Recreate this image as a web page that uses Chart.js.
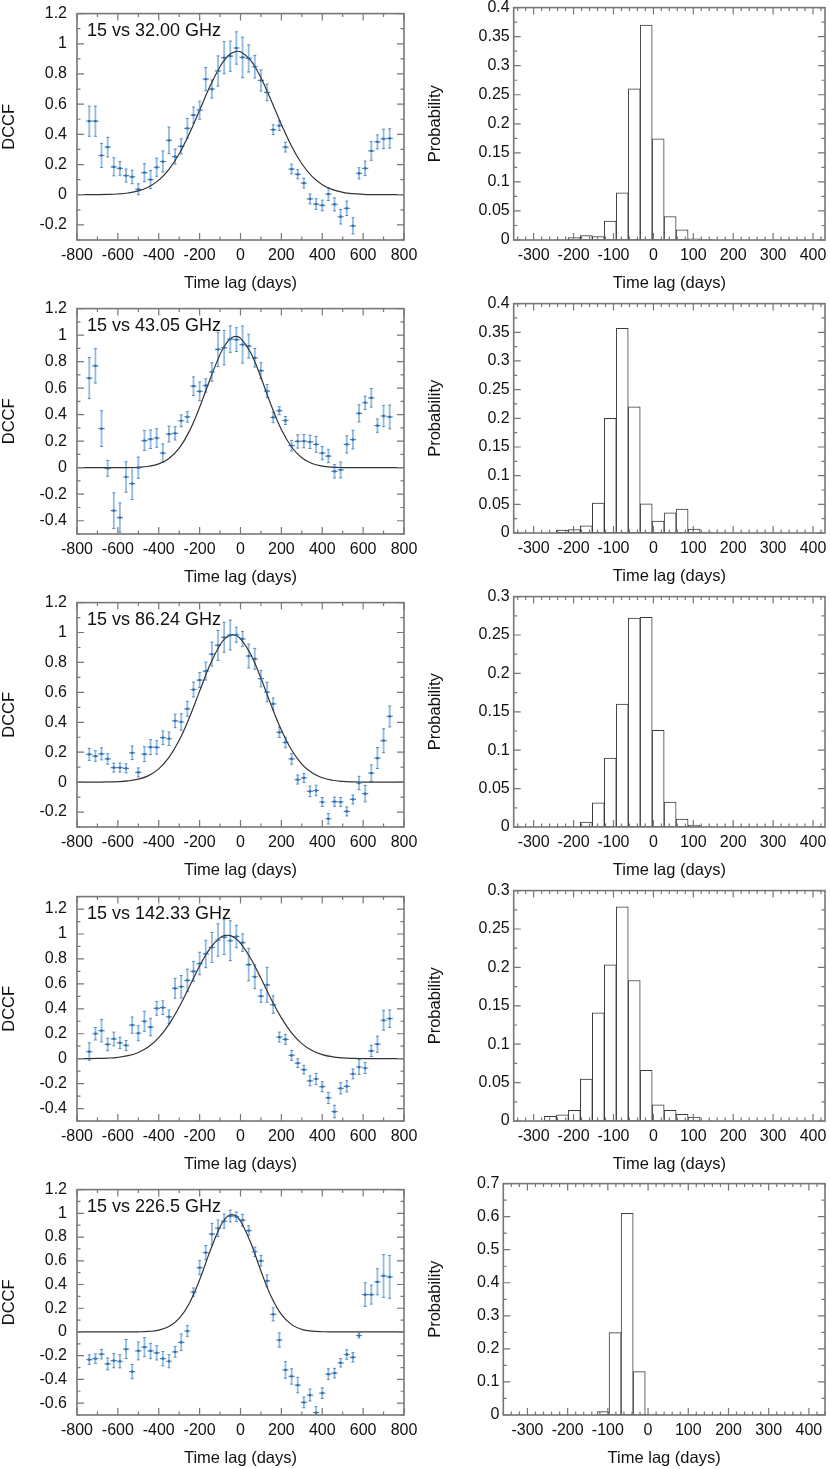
<!DOCTYPE html>
<html>
<head>
<meta charset="utf-8">
<title>DCCF time lags</title>
<script src="https://cdn.jsdelivr.net/npm/chart.js@4.4.0/dist/chart.umd.min.js"></script>
<style>
  html, body { margin: 0; padding: 0; background: #fff; overflow: hidden; }
  body { width: 830px; height: 1469px; position: relative; }
  canvas { position: absolute; }
</style>
</head>
<body>
<script>
// ---- data ----
var panelLabels = ["15 vs 32.00 GHz", "15 vs 43.05 GHz", "15 vs 86.24 GHz", "15 vs 142.33 GHz", "15 vs 226.5 GHz"];

// lag of every DCCF bin (days) and half width of the bin
var lags = [-740,-710,-680,-650,-620,-590,-560,-530,-500,-470,-440,-410,-380,-350,-320,-290,-260,-230,-200,-170,
            -140,-110,-80,-50,-20,10,40,70,100,130,160,190,220,250,280,310,340,370,400,430,
            460,490,520,550,580,610,640,670,700,730];
var lagHalfWidth = 15;

var dccf1 = [0.487,0.487,0.26,0.315,0.185,0.174,0.127,0.118,0.036,0.146,0.10,0.182,0.22,0.36,0.253,0.32,0.44,0.528,0.56,0.766,
             0.70,0.82,0.908,0.918,0.972,0.91,0.903,0.848,0.757,0.678,0.431,0.457,0.315,0.17,0.135,0.077,-0.028,-0.062,-0.071,0.004,
             -0.064,-0.146,-0.09,-0.206,0.142,0.175,0.29,0.35,0.37,0.373];
var err1 = [0.1,0.1,0.08,0.065,0.06,0.045,0.043,0.045,0.036,0.06,0.06,0.06,0.07,0.088,0.05,0.05,0.065,0.053,0.06,0.077,
            0.06,0.1,0.107,0.1,0.107,0.134,0.09,0.075,0.07,0.055,0.032,0.032,0.032,0.032,0.03,0.032,0.033,0.035,0.035,0.043,
            0.043,0.048,0.048,0.054,0.037,0.048,0.062,0.046,0.064,0.064];

var dccf2 = [0.676,0.768,0.295,-0.005,-0.324,-0.376,-0.07,-0.12,0.0,0.205,0.215,0.224,0.11,0.254,0.259,0.354,0.383,0.615,0.576,0.62,
             0.722,0.893,0.905,0.97,0.966,0.929,0.917,0.829,0.732,0.578,0.38,0.43,0.356,0.166,0.198,0.2,0.195,0.176,0.11,0.088,
             -0.027,-0.017,0.176,0.212,0.41,0.49,0.527,0.317,0.39,0.383];
var err2 = [0.155,0.13,0.135,0.06,0.135,0.11,0.115,0.12,0.08,0.075,0.07,0.07,0.07,0.06,0.05,0.045,0.04,0.07,0.07,0.05,
            0.07,0.13,0.13,0.1,0.09,0.14,0.09,0.07,0.06,0.05,0.04,0.03,0.03,0.04,0.05,0.05,0.05,0.06,0.05,0.05,
            0.05,0.06,0.065,0.07,0.065,0.05,0.07,0.05,0.08,0.09];

var dccf3 = [0.185,0.174,0.189,0.155,0.097,0.097,0.092,0.196,0.065,0.187,0.234,0.232,0.297,0.29,0.409,0.402,0.49,0.619,0.682,0.742,
             0.856,0.914,0.968,0.983,0.985,0.957,0.843,0.824,0.692,0.602,0.523,0.333,0.265,0.155,0.017,0.028,-0.062,-0.056,-0.133,-0.245,
             -0.131,-0.133,-0.196,-0.116,-0.006,-0.077,0.06,0.161,0.277,0.439];
var err3 = [0.04,0.035,0.04,0.035,0.03,0.03,0.03,0.045,0.03,0.05,0.05,0.045,0.045,0.045,0.045,0.055,0.05,0.05,0.05,0.06,
            0.08,0.1,0.1,0.1,0.05,0.05,0.08,0.07,0.055,0.065,0.04,0.035,0.035,0.035,0.03,0.03,0.035,0.035,0.03,0.035,
            0.03,0.03,0.03,0.03,0.045,0.055,0.055,0.07,0.08,0.07];

var dccf4 = [0.057,0.2,0.225,0.114,0.158,0.127,0.106,0.269,0.204,0.30,0.253,0.403,0.409,0.336,0.564,0.577,0.628,0.70,0.763,0.84,
             0.892,0.952,0.975,0.946,0.98,0.931,0.755,0.657,0.502,0.592,0.434,0.173,0.155,0.026,-0.036,-0.088,-0.178,-0.163,-0.225,-0.315,
             -0.424,-0.238,-0.222,-0.122,-0.067,-0.075,0.062,0.116,0.308,0.321];
var err4 = [0.07,0.05,0.09,0.05,0.055,0.045,0.04,0.065,0.06,0.08,0.07,0.055,0.055,0.055,0.08,0.09,0.09,0.08,0.09,0.11,
            0.12,0.13,0.14,0.16,0.09,0.07,0.13,0.095,0.05,0.14,0.07,0.04,0.04,0.04,0.035,0.035,0.04,0.045,0.04,0.045,
            0.05,0.045,0.045,0.04,0.06,0.045,0.045,0.065,0.08,0.07];

var dccf5 = [-0.233,-0.225,-0.187,-0.269,-0.242,-0.247,-0.144,-0.334,-0.16,-0.128,-0.16,-0.176,-0.225,-0.247,-0.168,-0.087,0.008,0.336,0.543,0.668,
             0.825,0.874,0.934,0.977,0.971,0.942,0.855,0.676,0.60,0.431,0.149,-0.068,-0.32,-0.375,-0.448,-0.594,-0.532,-0.68,-0.516,-0.355,
             -0.347,-0.26,-0.19,-0.214,-0.03,0.315,0.315,0.423,0.472,0.464];
var err5 = [0.04,0.04,0.04,0.05,0.06,0.055,0.08,0.06,0.075,0.08,0.065,0.06,0.06,0.055,0.045,0.07,0.045,0.035,0.06,0.06,
            0.09,0.07,0.06,0.05,0.04,0.05,0.04,0.04,0.045,0.05,0.055,0.06,0.07,0.065,0.065,0.045,0.05,0.05,0.045,0.045,
            0.04,0.035,0.04,0.04,0.02,0.1,0.08,0.11,0.18,0.18];

// fitted curve
var fitLags = [-800,-750,-700,-650,-600,-550,-500,-450,-400,-350,-300,-250,-200,-150,-100,-75,-50,-25,0,
               50,100,150,200,250,300,350,400,450,500,550,600,650,700,750,800];
var fit1 = [0,0,0.0007,0.0019,0.0048,0.0115,0.0252,0.0512,0.0964,0.168,0.271,0.405,0.56,0.717,0.85,0.899,0.932,0.9485,0.947,
            0.89,0.775,0.624,0.466,0.321,0.205,0.1215,0.0667,0.0337,0.0159,0.0069,0.0028,0.001,0.0004,0,0];
var fit2 = [0,0,0,0,0,0.001,0.0035,0.0108,0.0292,0.0699,0.1477,0.2758,0.4553,0.6636,0.8547,0.9257,0.9723,0.99,0.977,
            0.8675,0.6803,0.4713,0.2885,0.156,0.0745,0.0314,0.0117,0.0039,0.0011,0,0,0,0,0,0];
var fit3 = [0,0.0001,0.0003,0.001,0.003,0.008,0.0195,0.0436,0.0888,0.1648,0.2793,0.4314,0.6083,0.7824,0.9178,0.9606,0.9824,0.982,0.9592,
            0.8544,0.6943,0.5147,0.3481,0.2147,0.1208,0.062,0.0291,0.0124,0.0048,0.0017,0.0005,0,0,0,0];
var fit4 = [0.0002,0.0006,0.0017,0.0045,0.0108,0.0242,0.05,0.0954,0.1685,0.2747,0.4141,0.5769,0.7426,0.8834,0.9711,0.9884,0.9865,0.9653,0.9261,
            0.8035,0.6443,0.4774,0.3269,0.2068,0.121,0.0653,0.0327,0.0151,0.0064,0.0025,0.0009,0.0003,0,0,0];
var fit5 = [0,0,0,0,0,0.0002,0.0011,0.0044,0.0153,0.0453,0.1137,0.2425,0.4397,0.6774,0.8874,0.9555,0.9879,0.9807,0.9349,
            0.7518,0.5138,0.2986,0.1474,0.0619,0.0221,0.0067,0.0017,0.0004,0,0,0,0,0,0,0];

// lag probability histograms (bin centres, days)
var histLags = [-258,-228,-198,-168,-138,-108,-78,-48,-18,12,42,72,102,132,162];
var prob1 = [0,0.001,0.004,0.0075,0.006,0.0325,0.081,0.26,0.37,0.174,0.0405,0.0177,0.002,0.001,0];
var prob2 = [0,0.005,0.006,0.0127,0.052,0.20,0.357,0.22,0.0507,0.021,0.035,0.0415,0.007,0.0017,0.0005];
var prob3 = [0,0.0005,0.001,0.0065,0.0315,0.0896,0.16,0.272,0.273,0.126,0.0323,0.0103,0.0026,0.001,0];
var prob4 = [0.006,0.008,0.0138,0.0547,0.141,0.2035,0.279,0.183,0.066,0.021,0.0138,0.0086,0.005,0.001,0];
var histLags5 = [-142,-112,-82,-52,-22,8,38];
var prob5 = [0.0003,0.010,0.249,0.61,0.131,0.003,0];

// tick labels
var xTicksDccf = [-800,-600,-400,-200,0,200,400,600,800];
var xTicksHist = [-300,-200,-100,0,100,200,300,400];
var yTicksA = [-0.2,0,0.2,0.4,0.6,0.8,1,1.2];
var yTicksB = [-0.4,-0.2,0,0.2,0.4,0.6,0.8,1,1.2];
var yTicksC = [-0.6,-0.4,-0.2,0,0.2,0.4,0.6,0.8,1,1.2];
var yTicksP4 = [0,0.05,0.1,0.15,0.2,0.25,0.3,0.35,0.4];
var yTicksP3 = [0,0.05,0.1,0.15,0.2,0.25,0.3];
var yTicksP7 = [0,0.1,0.2,0.3,0.4,0.5,0.6,0.7];

// ---- layout ----
var FONT = "'Liberation Sans', Arial, Helvetica, sans-serif";
Chart.defaults.font.family = FONT;
Chart.defaults.font.size = 16;
Chart.defaults.color = '#111';
Chart.defaults.animation = false;
Chart.defaults.plugins.legend.display = false;
Chart.defaults.plugins.tooltip.enabled = false;

var dccfPanels = [
    { vals: dccf1, errs: err1, fit: fit1, yMin: -0.3, yMax: 1.2, yTicks: yTicksA, top: 6, bottom: 239.5 },
    { vals: dccf2, errs: err2, fit: fit2, yMin: -0.5, yMax: 1.2, yTicks: yTicksB, top: 300.7, bottom: 533.3 },
    { vals: dccf3, errs: err3, fit: fit3, yMin: -0.3, yMax: 1.2, yTicks: yTicksA, top: 595, bottom: 827.3 },
    { vals: dccf4, errs: err4, fit: fit4, yMin: -0.5, yMax: 1.3, yTicks: yTicksB, top: 888.7, bottom: 1121 },
    { vals: dccf5, errs: err5, fit: fit5, yMin: -0.7, yMax: 1.2, yTicks: yTicksC, top: 1182, bottom: 1415 }
];
var histPanels = [
    { lagsX: histLags, probs: prob1, yMax: 0.4, yTicks: yTicksP4, yMinor: 0.025, xMin: -350, xMax: 430, left: 513.7, top: 6, bottom: 239.7 },
    { lagsX: histLags, probs: prob2, yMax: 0.4, yTicks: yTicksP4, yMinor: 0.025, xMin: -350, xMax: 430, left: 513.7, top: 302.3, bottom: 533.7 },
    { lagsX: histLags, probs: prob3, yMax: 0.3, yTicks: yTicksP3, yMinor: 0.025, xMin: -350, xMax: 430, left: 513.7, top: 595.3, bottom: 827.3 },
    { lagsX: histLags, probs: prob4, yMax: 0.3, yTicks: yTicksP3, yMinor: 0.025, xMin: -350, xMax: 430, left: 513.7, top: 889, bottom: 1121 },
    { lagsX: histLags5, probs: prob5, yMax: 0.7, yTicks: yTicksP7, yMinor: 0.05, xMin: -360, xMax: 440, left: 503.3, top: 1182.3, bottom: 1415 }
];

function makeCanvas(left, top, width, height) {
    var cv = document.createElement('canvas');
    cv.width = width;
    cv.height = height;
    cv.style.left = left + 'px';
    cv.style.top = top + 'px';
    cv.style.width = width + 'px';
    cv.style.height = height + 'px';
    document.body.appendChild(cv);
    return cv;
}

function fmt(v) {
    return String(Math.round(v * 1000) / 1000);
}

function fixedTicks(values) {
    return function (scale) {
        scale.ticks = values.map(function (v) { return { value: v }; });
    };
}

function axisX(min, max, ticks) {
    return {
        type: 'linear', position: 'bottom', min: min, max: max, offset: false,
        afterBuildTicks: fixedTicks(ticks),
        afterFit: function (s) { s.height = 53; },
        grid: { display: false, drawTicks: false, offset: false },
        border: { display: false },
        ticks: { padding: 6, maxRotation: 0, autoSkip: false, callback: fmt },
        title: { display: true, text: 'Time lag (days)', padding: 0, font: { size: 16.5 } }
    };
}

function axisY(min, max, ticks, text, width, tickPad, titlePad) {
    return {
        type: 'linear', position: 'left', min: min, max: max,
        afterBuildTicks: fixedTicks(ticks),
        afterFit: function (s) { s.width = width; },
        grid: { display: false, drawTicks: false },
        border: { display: false },
        ticks: { padding: tickPad, autoSkip: false, callback: fmt },
        title: { display: true, text: text, padding: { top: titlePad, bottom: 0 }, font: { size: 16.5 } }
    };
}

// minor + major tick positions along a scale
function tickMarks(scale, minor) {
    var majors = scale.ticks.map(function (t) { return t.value; });
    var out = [];
    var start = Math.ceil(scale.min / minor - 1e-6);
    var end = Math.floor(scale.max / minor + 1e-6);
    for (var k = start; k <= end; k++) {
        var v = k * minor;
        var isMajor = majors.some(function (m) { return Math.abs(m - v) < minor * 0.01; });
        out.push({ v: v, major: isMajor });
    }
    return out;
}

// box with inward ticks on all four sides
function framePlugin(xMinor, yMinor) {
    return {
        id: 'frame',
        afterDraw: function (chart) {
            var ctx = chart.ctx, a = chart.chartArea;
            var sx = chart.scales.x, sy = chart.scales.y;
            ctx.save();
            ctx.strokeStyle = '#777';
            ctx.lineWidth = 1.2;
            ctx.beginPath();
            tickMarks(sx, xMinor).forEach(function (m) {
                var p = sx.getPixelForValue(m.v), len = m.major ? 7 : 3.5;
                ctx.moveTo(p, a.bottom); ctx.lineTo(p, a.bottom - len);
                ctx.moveTo(p, a.top); ctx.lineTo(p, a.top + len);
            });
            tickMarks(sy, yMinor).forEach(function (m) {
                var p = sy.getPixelForValue(m.v), len = m.major ? 7 : 3.5;
                ctx.moveTo(a.left, p); ctx.lineTo(a.left + len, p);
                ctx.moveTo(a.right, p); ctx.lineTo(a.right - len, p);
            });
            ctx.stroke();
            ctx.lineWidth = 1.6;
            ctx.strokeRect(a.left, a.top, a.right - a.left, a.bottom - a.top);
            ctx.restore();
        }
    };
}

function errorBarPlugin(xs, ys, es) {
    return {
        id: 'errorBars',
        beforeDatasetsDraw: function (chart) {
            var ctx = chart.ctx, a = chart.chartArea;
            var sx = chart.scales.x, sy = chart.scales.y;
            ctx.save();
            ctx.beginPath();
            ctx.rect(a.left, a.top, a.right - a.left, a.bottom - a.top);
            ctx.clip();
            for (var k = 0; k < xs.length; k++) {
                var px = sx.getPixelForValue(xs[k]);
                var py = sy.getPixelForValue(ys[k]);
                var yt = sy.getPixelForValue(ys[k] + es[k]);
                var yb = sy.getPixelForValue(ys[k] - es[k]);
                ctx.strokeStyle = 'rgba(120,170,215,0.8)';
                ctx.lineWidth = 1.8;
                ctx.beginPath();
                ctx.moveTo(px, yt); ctx.lineTo(px, yb);
                ctx.stroke();
                ctx.strokeStyle = 'rgba(70,130,190,0.9)';
                ctx.lineWidth = 1;
                ctx.beginPath();
                ctx.moveTo(px - 1.5, yt); ctx.lineTo(px + 1.5, yt);
                ctx.moveTo(px - 1.5, yb); ctx.lineTo(px + 1.5, yb);
                ctx.stroke();
                ctx.strokeStyle = '#4a86c4';
                ctx.lineWidth = 1.2;
                ctx.beginPath();
                ctx.moveTo(sx.getPixelForValue(xs[k] - lagHalfWidth), py);
                ctx.lineTo(sx.getPixelForValue(xs[k] + lagHalfWidth), py);
                ctx.stroke();
            }
            ctx.restore();
        }
    };
}

function labelPlugin(text) {
    return {
        id: 'panelLabel',
        afterDraw: function (chart) {
            var ctx = chart.ctx, a = chart.chartArea;
            ctx.save();
            ctx.font = '18px ' + FONT;
            ctx.fillStyle = '#111';
            ctx.textBaseline = 'alphabetic';
            ctx.fillText(text, a.left + 10, a.top + 22);
            ctx.restore();
        }
    };
}

function toPoints(xs, ys) {
    return xs.map(function (x, k) { return { x: x, y: ys[k] }; });
}

dccfPanels.forEach(function (p, i) {
    var cv = makeCanvas(0, p.top - 12, 425, Math.round(p.bottom - p.top + 65));
    new Chart(cv, {
        type: 'scatter',
        data: {
            datasets: [{
                data: toPoints(fitLags, p.fit),
                showLine: true,
                pointRadius: 0,
                borderColor: '#333',
                borderWidth: 1.2,
                tension: 0.4,
                order: 2
            }, {
                data: toPoints(lags, p.vals),
                pointStyle: 'rect',
                pointRadius: 1.6,
                backgroundColor: '#2f6db0',
                borderWidth: 0,
                order: 1
            }]
        },
        options: {
            responsive: false,
            devicePixelRatio: 1,
            layout: { padding: { top: 12, right: 21, bottom: 0, left: 0 } },
            scales: {
                x: axisX(-800, 800, xTicksDccf),
                y: axisY(p.yMin, p.yMax, p.yTicks, 'DCCF', 77, 10, 0)
            }
        },
        plugins: [errorBarPlugin(lags, p.vals, p.errs), framePlugin(100, 0.1), labelPlugin(panelLabels[i])]
    });
});

histPanels.forEach(function (p) {
    var cv = makeCanvas(415, p.top - 12, 425, Math.round(p.bottom - p.top + 65));
    new Chart(cv, {
        type: 'bar',
        data: {
            datasets: [{
                data: toPoints(p.lagsX, p.probs),
                backgroundColor: '#fff',
                borderColor: '#3a3a3a',
                borderWidth: 1,
                borderSkipped: false,
                barPercentage: 1,
                categoryPercentage: 1
            }]
        },
        options: {
            responsive: false,
            devicePixelRatio: 1,
            layout: { padding: { top: 12, right: 15, bottom: 0, left: 0 } },
            scales: {
                x: axisX(p.xMin, p.xMax, xTicksHist),
                y: axisY(0, p.yMax, p.yTicks, 'Probability', p.left - 415, 4, 11)
            }
        },
        plugins: [framePlugin(20, p.yMinor)]
    });
});
</script>
</body>
</html>
